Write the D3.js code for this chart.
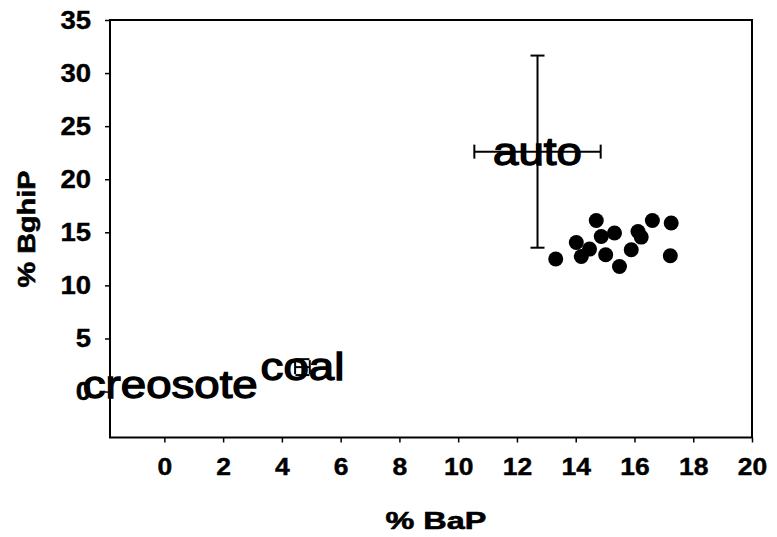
<!DOCTYPE html>
<html>
<head>
<meta charset="utf-8">
<script src="https://cdn.jsdelivr.net/npm/d3@7/dist/d3.min.js"></script>
<style>
  html, body { margin: 0; padding: 0; background: #fff; }
  svg { display: block; }
  text { font-family: "Liberation Sans", Arial, sans-serif; fill: #000; }
</style>
</head>
<body>
<svg id="chart" width="777" height="537"></svg>
<script>
// Source profiles: mean % BaP / % BghiP with error half-widths
const sourceNames   = ["auto", "coal", "creosote"];
const sourceBaP     = [12.7, 4.7, 0.2];
const sourceBghiP   = [22.6, 2.3, 0.6];
const sourceBaPErr  = [2.15, 0.25, 0];
const sourceBghiPErr = [9.05, 0.75, 0];

// Individual samples
const sampleBaP   = [14.70, 13.32, 14.02, 14.19, 14.47, 14.87, 15.32, 15.02, 15.49, 15.89, 16.12, 16.23, 16.61, 17.25, 17.22];
const sampleBghiP = [16.11, 12.48, 14.04, 12.72, 13.42, 14.61, 14.93, 12.88, 11.78, 13.35, 15.08, 14.55, 16.11, 15.87, 12.79];

// Axis ticks
const xTicks = [0, 2, 4, 6, 8, 10, 12, 14, 16, 18, 20];
const yTicks = [0, 5, 10, 15, 20, 25, 30, 35];

const svg = d3.select("#chart");
const plot = { left: 110, right: 752, top: 20, bottom: 437.5 };

const x = d3.scaleLinear().domain([-1.85, 20]).range([plot.left, plot.right]);
const y = d3.scaleLinear().domain([-4.33, 35]).range([plot.bottom, plot.top]);

// stretch text horizontally (wide face)
function widen(sel, f) {
  sel.each(function () {
    const w = this.getComputedTextLength();
    d3.select(this).attr("textLength", w * f).attr("lengthAdjust", "spacingAndGlyphs");
  });
}

// plot frame
svg.append("rect")
  .attr("x", plot.left).attr("y", plot.top)
  .attr("width", plot.right - plot.left).attr("height", plot.bottom - plot.top)
  .attr("fill", "none").attr("stroke", "#000").attr("stroke-width", 2);

// x axis
const xAxis = svg.append("g")
  .attr("transform", `translate(0,${plot.bottom})`)
  .call(d3.axisBottom(x).tickValues(xTicks).tickSize(5).tickPadding(16).tickFormat(d3.format("d")));
xAxis.select(".domain").remove();
xAxis.selectAll("line").attr("stroke", "#000").attr("stroke-width", 1.5);
xAxis.selectAll("text")
  .attr("font-family", "Liberation Sans, Arial, sans-serif")
  .attr("font-weight", "bold").attr("font-size", 23).attr("fill", "#000")
  .attr("stroke", "#000").attr("stroke-width", 0.4)
  .call(widen, 1.15);

// y axis
const yAxis = svg.append("g")
  .attr("transform", `translate(${plot.left},0)`)
  .call(d3.axisLeft(y).tickValues(yTicks).tickSize(5).tickPadding(14).tickFormat(d3.format("d")));
yAxis.select(".domain").remove();
yAxis.selectAll("line").attr("stroke", "#000").attr("stroke-width", 1.5);
yAxis.selectAll("text")
  .attr("font-family", "Liberation Sans, Arial, sans-serif")
  .attr("font-weight", "bold").attr("font-size", 25).attr("fill", "#000")
  .attr("stroke", "#000").attr("stroke-width", 0.4)
  .call(widen, 1.1);

// axis titles
svg.append("text")
  .attr("x", 436).attr("y", 529)
  .attr("text-anchor", "middle")
  .attr("font-weight", "bold").attr("font-size", 24)
  .attr("stroke", "#000").attr("stroke-width", 0.6)
  .text("% BaP")
  .call(widen, 1.35);

svg.append("text")
  .attr("transform", "translate(35,229) rotate(-90)")
  .attr("text-anchor", "middle")
  .attr("font-weight", "bold").attr("font-size", 24)
  .attr("stroke", "#000").attr("stroke-width", 0.6)
  .text("% BghiP")
  .call(widen, 1.2);

// sample markers
const samples = sampleBaP.map((v, i) => ({ bap: v, bghip: sampleBghiP[i] }));
svg.append("g").selectAll("circle")
  .data(samples)
  .join("circle")
  .attr("cx", d => x(d.bap))
  .attr("cy", d => y(d.bghip))
  .attr("r", 7.5)
  .attr("fill", "#000");

// source error bars
const sources = sourceNames.map((n, i) => ({
  name: n, bap: sourceBaP[i], bghip: sourceBghiP[i],
  ex: sourceBaPErr[i], ey: sourceBghiPErr[i]
}));
const cap = 7;
const eb = svg.append("g").attr("stroke", "#000").attr("stroke-width", 2);
sources.forEach(s => {
  const cx = x(s.bap), cy = y(s.bghip);
  if (s.ey > 0) {
    const y0 = y(s.bghip + s.ey), y1 = y(s.bghip - s.ey);
    eb.append("line").attr("x1", cx).attr("x2", cx).attr("y1", y0).attr("y2", y1);
    eb.append("line").attr("x1", cx - cap).attr("x2", cx + cap).attr("y1", y0).attr("y2", y0);
    eb.append("line").attr("x1", cx - cap).attr("x2", cx + cap).attr("y1", y1).attr("y2", y1);
  }
  if (s.ex > 0) {
    const x0 = x(s.bap - s.ex), x1 = x(s.bap + s.ex);
    eb.append("line").attr("x1", x0).attr("x2", x1).attr("y1", cy).attr("y2", cy);
    eb.append("line").attr("x1", x0).attr("x2", x0).attr("y1", cy - cap).attr("y2", cy + cap);
    eb.append("line").attr("x1", x1).attr("x2", x1).attr("y1", cy - cap).attr("y2", cy + cap);
  }
});

// source labels, centred on each mean
svg.append("g").selectAll("text")
  .data(sources)
  .join("text")
  .attr("x", d => x(d.bap))
  .attr("y", d => y(d.bghip) + 13)
  .attr("text-anchor", "middle")
  .attr("font-size", 38)
  .attr("stroke", "#000").attr("stroke-width", 1.3)
  .text(d => d.name)
  .call(widen, 1.2);
</script>
</body>
</html>
